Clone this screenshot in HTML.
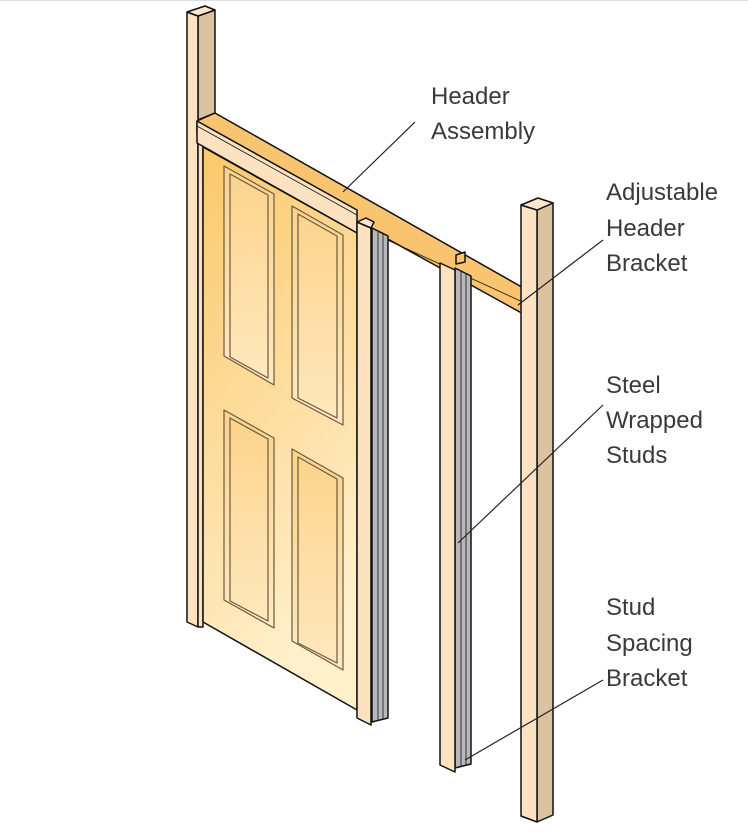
<!DOCTYPE html>
<html><head><style>
html,body{margin:0;padding:0;background:#fff;}
svg{display:block;}
text{font-family:"Liberation Sans",sans-serif;font-size:24px;fill:#3a3a3a;}
</style></head><body>
<svg width="748" height="832" viewBox="0 0 748 832" xmlns="http://www.w3.org/2000/svg">
<defs>
<linearGradient id="door" x1="0" y1="0" x2="0.3" y2="1">
<stop offset="0" stop-color="#fbc86a"/><stop offset="1" stop-color="#fff0cc"/>
</linearGradient>
<linearGradient id="panel" x1="0" y1="0" x2="0" y2="1">
<stop offset="0" stop-color="#fcd38a"/><stop offset="1" stop-color="#ffe9bf"/>
</linearGradient>
</defs>
<line x1="0" y1="0.5" x2="748" y2="0.5" stroke="#ddd"/>
<g stroke="#111" stroke-width="1.5" stroke-linejoin="round">
<polygon points="198,16 215,10 215,113 198,120" fill="#dcc3a0"/>
<polygon points="187,12 198,16 198,627 187,622" fill="#fde2c2"/>
<polygon points="187,12 205,6 215,10 198,16" fill="#fde8cc"/>
<polygon points="198,120 203,120 203,627 198,627" fill="#fde2c2"/>
<polygon points="197,121 215,113 527,290 527,316 357,222 197,133" fill="#f8c470"/>
<line x1="357" y1="226" x2="527" y2="304" stroke-width="0.8"/>
<polygon points="197,121 357,210 357,233 197,143" fill="#fde2c2"/>
<line x1="197" y1="126" x2="357" y2="215" stroke-width="0.8"/>
<polygon points="203,147 357,233 357,710 203,622" fill="url(#door)"/>
<g fill="url(#panel)" stroke="#6b5a40" stroke-width="1.2">
<polygon points="224,166 274,194 274,385 224,356"/>
<polygon points="230,174 268,195 268,378 230,357" fill="none"/>
<polygon points="292,206 343,235 343,425 292,398"/>
<polygon points="298,214 337,236 337,418 298,398" fill="none"/>
<polygon points="224,410 274,438 274,628 224,600"/>
<polygon points="230,418 268,439 268,621 230,601" fill="none"/>
<polygon points="292,449 343,478 343,670 292,641"/>
<polygon points="298,457 337,479 337,663 298,643" fill="none"/>
</g>
<polygon points="372,228 388,236 388,718 372,722" fill="#b8b8bc"/>
<line x1="378" y1="232" x2="378" y2="720" stroke-width="0.8"/>
<line x1="383" y1="234" x2="383" y2="719" stroke-width="0.8"/>
<polygon points="357,222 371,228 371,725 357,718" fill="#fde2c2"/>
<polygon points="357,222 366,218 374,222 371,228" fill="#fde8cc"/>
<polygon points="455,268 471,276 471,764 455,768" fill="#b8b8bc"/>
<line x1="461" y1="272" x2="461" y2="766" stroke-width="0.8"/>
<line x1="466" y1="274" x2="466" y2="765" stroke-width="0.8"/>
<polygon points="440,263 455,270 455,772 440,765" fill="#fde2c2"/>
<polygon points="456,255 465,252 465,262 456,264" fill="#f8c470"/>
<polygon points="537,210 553,203 553,815 537,822" fill="#dcc3a0"/>
<polygon points="521,205 537,210 537,822 521,816" fill="#fde2c2"/>
<polygon points="521,205 538,198 553,203 537,210" fill="#fde8cc"/>
</g>
<g stroke="#222" stroke-width="1.2">
<line x1="415" y1="122" x2="343" y2="192"/>
<line x1="603" y1="240" x2="518" y2="305"/>
<line x1="603" y1="405" x2="458" y2="543"/>
<line x1="603" y1="680" x2="465" y2="760"/>
</g>
<text x="431" y="104">Header</text>
<text x="431" y="139">Assembly</text>
<text x="606" y="200">Adjustable</text>
<text x="606" y="236">Header</text>
<text x="606" y="271">Bracket</text>
<text x="606" y="393">Steel</text>
<text x="606" y="428">Wrapped</text>
<text x="606" y="463">Studs</text>
<text x="606" y="615">Stud</text>
<text x="606" y="651">Spacing</text>
<text x="606" y="686">Bracket</text>
</svg>
</body></html>
